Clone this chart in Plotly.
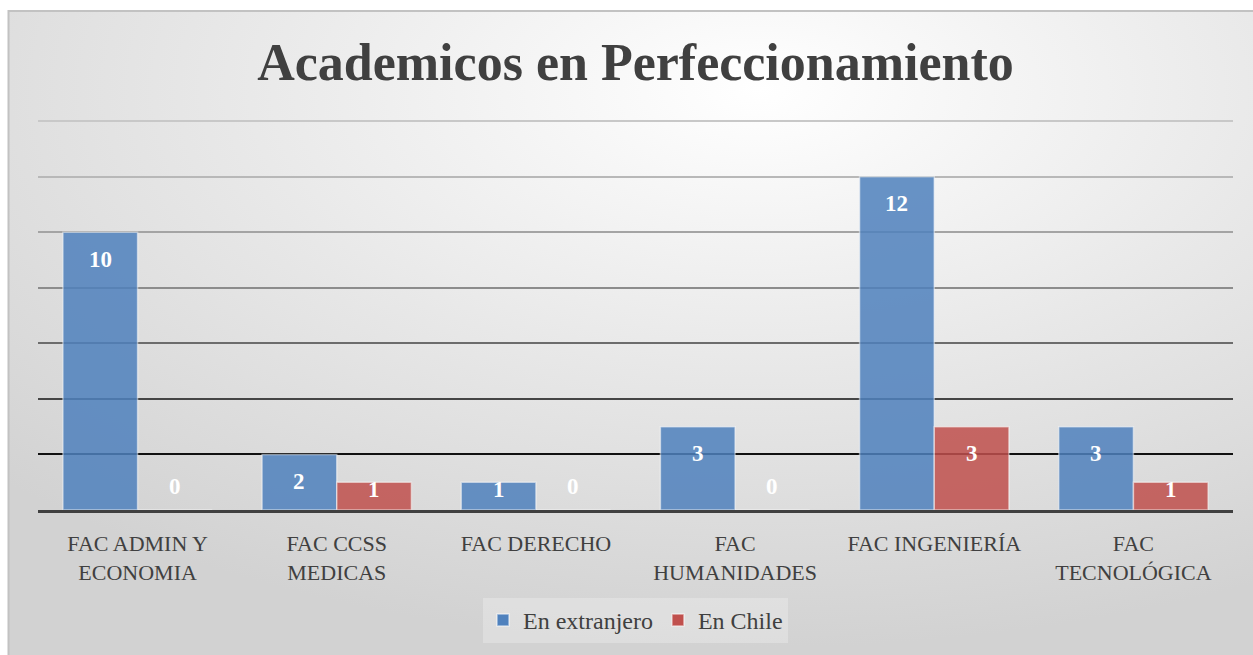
import base64
import plotly.graph_objects as go

# ---- data ----
categories = ["FAC ADMIN Y<br>ECONOMIA", "FAC CCSS<br>MEDICAS", "FAC DERECHO",
              "FAC<br>HUMANIDADES", "FAC INGENIERÍA", "FAC<br>TECNOLÓGICA"]
extranjero = [10, 2, 1, 3, 12, 3]
chile = [0, 1, 0, 0, 3, 1]
series_names = ["En extranjero", "En Chile"]
grid_values = [2, 4, 6, 8, 10, 12, 14]
title_text = "Academicos en Perfeccionamiento"

# ---- style ----
FONT = "Liberation Serif"
BLUE = "#4F81BD"
RED = "#C0504D"
grid_colors = {2: "#111111", 4: "#454545", 6: "#6c6c6c", 8: "#8c8c8c",
               10: "#a4a4a4", 12: "#b8b8b8", 14: "#c8c8c8"}
BARGAP = 0.25
Y_MAX = 14.08

fig = go.Figure()
for name, vals, col in [(series_names[0], extranjero, BLUE), (series_names[1], chile, RED)]:
    fig.add_trace(go.Bar(
        x=categories, y=vals, name=name,
        marker=dict(color=col, opacity=0.85,
                    line=dict(color="rgba(255,255,255,0.55)", width=1.5)),
        hoverinfo="x+y",
    ))

# gridlines: one overlaying axis per gridline so each can have its own shade
layout_axes = {}
for k, v in enumerate(grid_values):
    key = "yaxis" if k == 0 else f"yaxis{k + 1}"
    ax = dict(range=[0, Y_MAX], tickvals=[v], showticklabels=False, ticks="",
              showgrid=True, gridcolor=grid_colors[v], gridwidth=1.6,
              zeroline=False, showline=False, fixedrange=True)
    if k > 0:
        ax.update(overlaying="y", anchor="x")
        fig.add_trace(go.Scatter(x=[], y=[], yaxis=f"y{k + 1}", showlegend=False,
                                 hoverinfo="skip"))
    layout_axes[key] = ax

# data labels as annotations positioned from the data through the axes
half = (1 - BARGAP) / 4
annotations = []
for i, cat in enumerate(categories):
    for vals, off in [(extranjero, -half), (chile, half)]:
        v = vals[i]
        if v >= 2:
            shift = -27
        elif v == 1:
            shift = -7
        else:
            shift = 24
        annotations.append(dict(
            x=i + off, y=v, xref="x", yref="y", text=f"<b>{v}</b>",
            showarrow=False, yshift=shift,
            font=dict(family=FONT, size=23, color="white"),
        ))

# background gradient (radial, Excel-like)
svg = """<svg xmlns='http://www.w3.org/2000/svg' width='1240' height='650' viewBox='0 0 1240 650' preserveAspectRatio='none'>
<defs><radialGradient id='g' cx='0.6' cy='0.12' r='0.85' gradientUnits='objectBoundingBox'>
<stop offset='0' stop-color='#ffffff'/><stop offset='0.5' stop-color='#e8e8e8'/><stop offset='1' stop-color='#d2d2d2'/>
</radialGradient></defs><rect width='1240' height='650' fill='url(#g)'/></svg>"""
src = "data:image/svg+xml;base64," + base64.b64encode(svg.encode()).decode()

W, H = 1253, 655
ML, MR, MT, MB = 38, 20, 119, 143
pw, ph = W - ML - MR, H - MT - MB
px = lambda x: (x - ML) / pw
py = lambda y: (H - MB - y) / ph

fig.update_layout(
    width=W, height=H,
    margin=dict(l=ML, r=MR, t=MT, b=MB),
    paper_bgcolor="white", plot_bgcolor="rgba(0,0,0,0)",
    barmode="group", bargap=BARGAP, bargroupgap=0,
    title=dict(text=f"<b>{title_text}</b>", x=0.5, xref="paper", xanchor="center",
               y=1 - 62 / H, yanchor="middle",
               font=dict(family=FONT, size=52, color="#404040")),
    xaxis=dict(showline=True, linecolor="#404040", linewidth=3, ticks="",
               ticklabelstandoff=12,
               tickfont=dict(family=FONT, size=22, color="#404040"),
               fixedrange=True),
    legend=dict(orientation="h", x=0.5, xanchor="center", y=py(623), yanchor="middle",
                bgcolor="rgba(255,255,255,0.25)",
                font=dict(family=FONT, size=24, color="#404040"),
                itemclick=False),
    font=dict(family=FONT),
    annotations=annotations,
    images=[dict(source=src, xref="paper", yref="paper", x=px(8), y=py(10),
                 sizex=px(1260) - px(8), sizey=py(10) - py(670),
                 xanchor="left", yanchor="top", sizing="stretch", layer="below")],
    shapes=[dict(type="rect", xref="paper", yref="paper",
                 x0=px(8.5), y0=py(10.5), x1=px(1262), y1=py(670),
                 line=dict(color="#c2c2c2", width=2), fillcolor="rgba(0,0,0,0)",
                 layer="above")],
    **layout_axes,
)

fig.write_html("out.html", config={"displayModeBar": False},
               post_script="document.body.style.margin='0px';")
